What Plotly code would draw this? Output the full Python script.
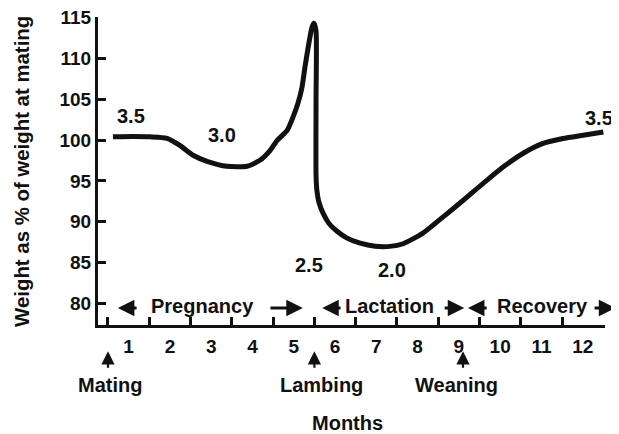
import plotly.graph_objects as go

# ---- data ----
months = [0.12, 0.60, 1.02, 1.43, 1.74, 2.06, 2.40, 2.88, 3.37, 3.68, 3.93, 4.10, 4.34, 4.48,
          4.60, 4.70, 4.77, 4.85, 4.94, 4.99, 5.04, 5.04, 5.04, 5.06, 5.11, 5.21, 5.35, 5.55,
          5.79, 6.11, 6.47, 6.83, 7.15, 7.63, 8.12, 8.60, 9.09, 9.57, 10.06, 10.54, 11.02,
          11.51, 12.0]
weight_pct = [100.41, 100.45, 100.41, 100.23, 99.37, 98.15, 97.41, 96.80, 96.80, 97.53, 98.76,
              99.98, 101.2, 102.8, 104.5, 106.5, 108.9, 111.4, 113.8, 114.35, 113.4, 104.9, 95.7,
              93.86, 92.39, 91.05, 89.82, 88.84, 87.99, 87.37, 87.0, 86.98, 87.3, 88.6, 90.6, 92.6,
              94.7, 96.7, 98.4, 99.6, 100.2, 100.6, 101.0]

y_ticks = [80, 85, 90, 95, 100, 105, 110, 115]
month_tick_pos = [0, 1, 2, 3, 4, 5, 6, 7, 8, 9, 10, 11]
month_label_pos = [0.5, 1.5, 2.5, 3.5, 4.5, 5.5, 6.5, 7.5, 8.5, 9.5, 10.5, 11.5]
month_labels = ["1", "2", "3", "4", "5", "6", "7", "8", "9", "10", "11", "12"]

score_text = ["3.5", "3.0", "2.5", "2.0", "3.5"]
score_x = [0.56, 2.76, 4.87, 6.88, 11.9]
score_y = [103.0, 100.6, 84.7, 84.1, 102.7]

phase_names = ["Pregnancy", "Lactation", "Recovery"]
phase_x = [2.30, 6.81, 10.52]
# arrows: (head, tail) in months
phase_arrows = [(0.24, 0.73), (4.72, 3.90), (5.19, 5.67), (8.63, 8.12), (8.72, 9.21), (12.29, 11.75)]
phase_y = 79.66

events = ["Mating", "Lambing", "Weaning"]
event_arrow_x = [0.0, 5.0, 8.6]
event_text_x = [0.05, 5.18, 8.45]

INK = "#111111"
FONT = "Liberation Sans, Arial, Helvetica, sans-serif"

fig = go.Figure()
fig.add_trace(go.Scatter(
    x=months, y=weight_pct, mode="lines",
    line=dict(color=INK, width=5, shape="spline", smoothing=0.6),
    hoverinfo="skip", showlegend=False,
))

annotations = []
for t, x, y in zip(score_text, score_x, score_y):
    annotations.append(dict(x=x, y=y, xref="x", yref="y", text=t, showarrow=False,
                            xanchor="center", yanchor="middle", font=dict(size=20)))
for t, x in zip(phase_names, phase_x):
    annotations.append(dict(x=x, y=phase_y, xref="x", yref="y", text=t, showarrow=False,
                            xanchor="center", yanchor="middle", font=dict(size=20)))
for head, tail in phase_arrows:
    annotations.append(dict(x=head, y=79.42, ax=tail, ay=79.42, xref="x", yref="y",
                            axref="x", ayref="y", text="", showarrow=True,
                            arrowhead=2, arrowsize=1.1, arrowwidth=3, arrowcolor=INK))
for t, ax_, tx in zip(events, event_arrow_x, event_text_x):
    annotations.append(dict(x=ax_, y=-0.085, ax=0, ay=18, xref="x", yref="paper",
                            axref="pixel", ayref="pixel", text="", showarrow=True,
                            arrowhead=2, arrowsize=1.2, arrowwidth=2.2, arrowcolor=INK))
    annotations.append(dict(x=tx, y=-0.195, xref="x", yref="paper", text=t,
                            xanchor="center", yanchor="middle",
                            showarrow=False, font=dict(size=20)))
annotations.append(dict(x=5.8, y=-0.318, xref="x", yref="paper", text="Months",
                        xanchor="center", yanchor="middle",
                        showarrow=False, font=dict(size=20)))
annotations.append(dict(x=-0.15, y=0.5, xref="paper", yref="paper", xanchor="center",
                        yanchor="middle",
                        text="Weight as % of weight at mating", textangle=-90,
                        showarrow=False, font=dict(size=20.4)))

# page body has an 8px default margin, so the figure is sized/offset to compensate
fig.update_layout(
    width=611, height=426,
    margin=dict(l=90, r=14, t=9, b=109, autoexpand=False),
    paper_bgcolor="white", plot_bgcolor="white",
    font=dict(family=FONT, size=20, color=INK, weight="bold"),
    showlegend=False,
    annotations=annotations,
    xaxis=dict(
        range=[-0.242, 12.04], showgrid=False, zeroline=False,
        showline=True, linewidth=3, linecolor=INK,
        tickmode="array", tickvals=month_label_pos, ticktext=month_labels,
        ticks="", tickfont=dict(size=19, color=INK, weight="bold"),
        ticklabelstandoff=2,
        minor=dict(tickmode="array", tickvals=month_tick_pos, ticks="inside",
                   ticklen=8, tickwidth=3, tickcolor=INK, showgrid=False),
    ),
    yaxis=dict(
        range=[77.34, 115.1], showgrid=False, zeroline=False,
        showline=True, linewidth=3, linecolor=INK,
        tickmode="array", tickvals=y_ticks, ticks="inside", ticklen=8, tickwidth=3,
        tickcolor=INK, tickfont=dict(size=19, color=INK, weight="bold"),
        ticksuffix="\u00a0\u00a0", ticklabeloverflow="allow",
    ),
)

fig.write_html("out.html")
